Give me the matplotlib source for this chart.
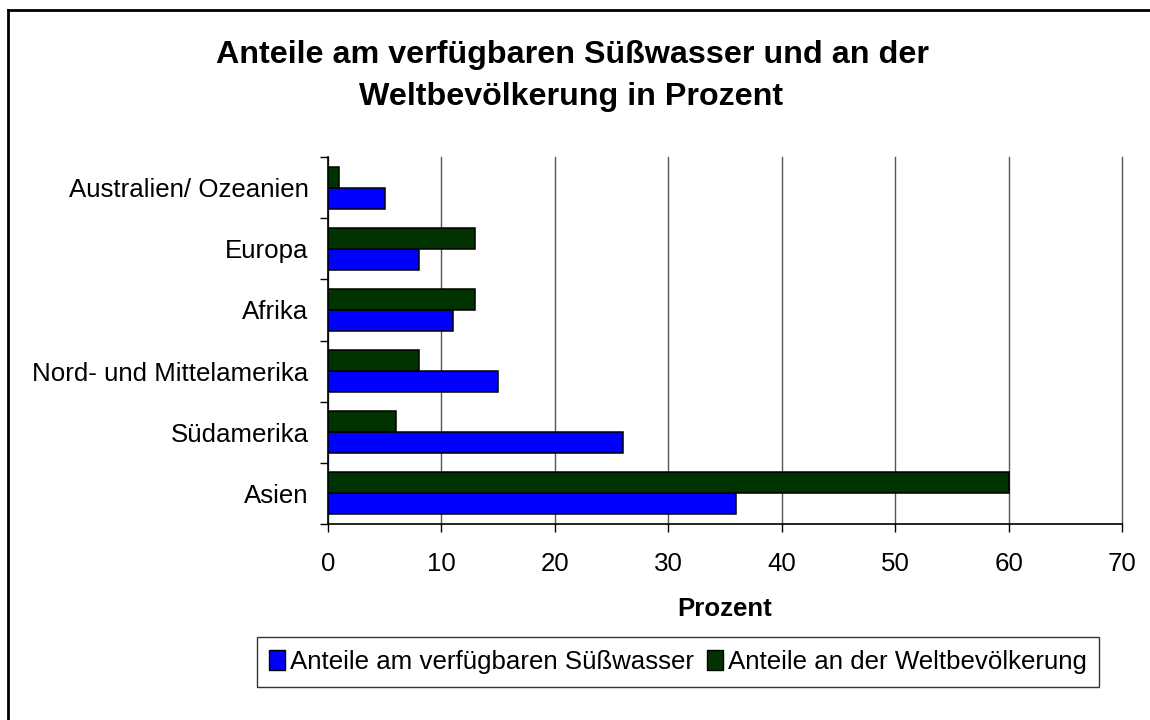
import numpy as np
import matplotlib.pyplot as plt
from matplotlib.lines import Line2D
from matplotlib.patches import Patch

plt.rcParams['font.family'] = ['Liberation Sans', 'DejaVu Sans']

# data, bottom to top as in the chart
regionen = ['Asien', 'Südamerika', 'Nord- und Mittelamerika', 'Afrika',
            'Europa', 'Australien/ Ozeanien']
suesswasser = [36, 26, 15, 11, 8, 5]
bevoelkerung = [60, 6, 8, 13, 13, 1]
x_ticks = [0, 10, 20, 30, 40, 50, 60, 70]

label_wasser = 'Anteile am verfügbaren Süßwasser'
label_bev = 'Anteile an der Weltbevölkerung'
farbe_wasser = '#0000ff'
farbe_bev = '#003300'

W, H = 1150, 720
fig = plt.figure(figsize=(W / 100, H / 100), dpi=100)
ax = fig.add_axes([328 / W, 1 - 524 / H, (1122 - 328) / W, (524 - 157) / H])

y = np.arange(len(regionen))
h = 0.344
ax.barh(y - h / 2, suesswasser, height=h, color=farbe_wasser,
        edgecolor='black', linewidth=1.1, zorder=3)
ax.barh(y + h / 2, bevoelkerung, height=h, color=farbe_bev,
        edgecolor='black', linewidth=1.1, zorder=3)

ax.set_xlim(0, 70)
ax.set_ylim(-0.5, len(regionen) - 0.5)
ax.set_xticks(x_ticks)
ax.set_yticks(y)
ax.set_yticklabels(regionen)
ax.set_yticks(np.arange(len(regionen) + 1) - 0.5, minor=True)

ax.tick_params(axis='y', which='major', length=0, pad=14, labelsize=18.6)
ax.tick_params(axis='y', which='minor', length=6, width=1, direction='out')
ax.tick_params(axis='x', length=6, width=1, direction='out', pad=14,
               labelsize=18.6)

ax.grid(axis='x', color='#555555', linewidth=1, zorder=0)
for gl in ax.get_xgridlines():
    gl.set_clip_on(False)
for s in ['top', 'right']:
    ax.spines[s].set_visible(False)
for s in ['left', 'bottom']:
    ax.spines[s].set_linewidth(1.2)

ax.set_xlabel('Prozent', fontsize=18.6, fontweight='bold', labelpad=15)

fig.text(573 / W, 1 - 63 / H, 'Anteile am verfügbaren Süßwasser und an der',
         ha='center', va='baseline', fontsize=23.2, fontweight='bold')
fig.text(571 / W, 1 - 105 / H, 'Weltbevölkerung in Prozent',
         ha='center', va='baseline', fontsize=23.2, fontweight='bold')

handles = [Patch(facecolor=farbe_wasser, edgecolor='black', label=label_wasser),
           Patch(facecolor=farbe_bev, edgecolor='black', label=label_bev)]
leg = fig.legend(handles=handles, loc='center', ncol=2,
                 bbox_to_anchor=(678 / W, 1 - 662 / H), fontsize=18.6,
                 frameon=True, fancybox=False, edgecolor='black',
                 handlelength=0.6, handleheight=0.8, handletextpad=0.2,
                 columnspacing=0.5, borderpad=0.5)
leg.get_frame().set_linewidth(1)

# outer chart frame (only top and left edges visible)
fig.add_artist(Line2D([8 / W, 8 / W], [0, 1 - 10 / H], color='black',
                      linewidth=2, transform=fig.transFigure))
fig.add_artist(Line2D([8 / W, 1], [1 - 10 / H, 1 - 10 / H], color='black',
                      linewidth=2, transform=fig.transFigure))

fig.savefig('out.png', dpi=100)
